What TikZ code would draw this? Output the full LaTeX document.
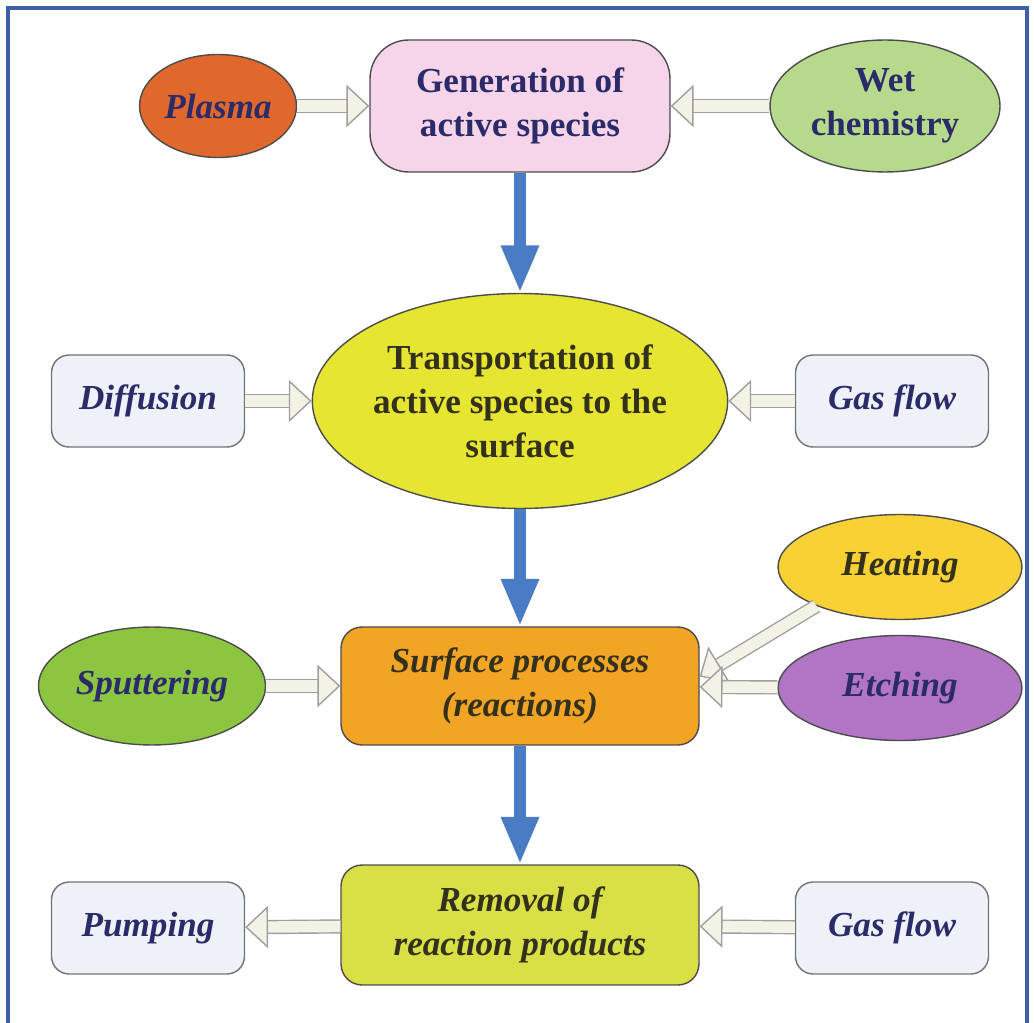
\documentclass[tikz,border=0pt]{standalone}
\usepackage{fontspec}
\setmainfont{Liberation Serif}
\usetikzlibrary{arrows.meta,shapes.geometric}
\definecolor{framecol}{HTML}{3D5FA6}
\definecolor{bluearrow}{HTML}{4A7CC6}
\definecolor{arrowfill}{HTML}{F2F2E6}
\definecolor{inktext}{HTML}{2B2B6A}
\definecolor{darktext}{HTML}{33301C}
\definecolor{plasmacol}{HTML}{E0682C}
\definecolor{gencol}{HTML}{F6D4EA}
\definecolor{wetcol}{HTML}{B6D98C}
\definecolor{transcol}{HTML}{E6E632}
\definecolor{sidecol}{HTML}{EEF2F8}
\definecolor{surfcol}{HTML}{F2A424}
\definecolor{sputcol}{HTML}{8CC640}
\definecolor{heatcol}{HTML}{F8D234}
\definecolor{etchcol}{HTML}{B274C4}
\definecolor{remcol}{HTML}{D8E046}
\begin{document}
\begin{tikzpicture}[x=0.02cm,y=-0.02cm,line width=0.8pt,
	txt/.style={font=\fontsize{20}{25}\selectfont\bfseries,align=center,inner sep=0pt},
	itxt/.style={txt,font=\fontsize{20}{25}\selectfont\bfseries\itshape},
	oval/.style={ellipse,draw=black!70},
	sidebox/.style={rectangle,rounded corners=10pt,draw=black!55,fill=sidecol,minimum width=3.86cm,minimum height=1.84cm,itxt,text=inktext},
	mainbox/.style={rectangle,rounded corners=12pt,draw=black!70,minimum width=7.16cm,itxt,text=darktext},
	hollow/.style={draw=gray!75,double=arrowfill,double distance=6.5pt,line width=0.8pt,
		-{Triangle[open,length=13pt,width=24pt,fill=arrowfill]}},
	flow/.style={bluearrow,line width=6.5pt,-{Triangle[length=27pt,width=20pt]}}]
	\useasboundingbox (0,0) rectangle (1034,1023);
	\draw[framecol,line width=1.8pt] (8,1030)--(8,8)--(1027,8)--(1027,1030);
	% top row
	\node[oval,fill=plasmacol,minimum width=3.14cm,minimum height=2.06cm,itxt,text=inktext] (plasma) at (218,106) {Plasma};
	\node[rectangle,rounded corners=22pt,draw=black!70,fill=gencol,minimum width=6cm,minimum height=2.64cm,txt,text=inktext] (gen) at (520,106) {Generation of\\active species};
	\node[oval,fill=wetcol,minimum width=4.6cm,minimum height=2.64cm,txt,text=inktext] (wet) at (885,106) {Wet\\chemistry};
	% second row
	\node[oval,fill=transcol,minimum width=8.1cm,minimum height=4.3cm,txt,text=darktext] (trans) at (520,401) {Transportation of\\active species to the\\surface};
	\node[sidebox] (diff) at (148,401) {Diffusion};
	\node[sidebox] (gas) at (892,401) {Gas flow};
	% third row
	\node[mainbox,fill=surfcol,minimum height=2.36cm] (surf) at (520,686) {Surface processes\\(reactions)};
	\node[oval,fill=sputcol,minimum width=4.54cm,minimum height=2.36cm,itxt,text=inktext] (sput) at (152,686) {Sputtering};
	\node[oval,fill=heatcol,minimum width=4.88cm,minimum height=2.1cm,itxt,text=darktext] (heat) at (900,567) {Heating};
	\node[oval,fill=etchcol,minimum width=4.88cm,minimum height=2.1cm,itxt,text=inktext] (etch) at (900,688) {Etching};
	% bottom row
	\node[mainbox,fill=remcol,minimum height=2.4cm] (rem) at (520,925) {Removal of\\reaction products};
	\node[sidebox] (pump) at (148,928) {Pumping};
	\node[sidebox] (gas2) at (892,928) {Gas flow};
	% connectors
	\draw[hollow] (plasma) -- (gen);
	\draw[hollow] (wet) -- (gen);
	\draw[hollow] (diff) -- (trans);
	\draw[hollow] (gas) -- (trans);
	\draw[hollow] (sput) -- (surf);
	\draw[hollow] (heat.205) -- (surf.3);
	\draw[hollow] (etch) -- (surf);
	\draw[hollow] (rem) -- (pump);
	\draw[hollow] (gas2) -- (rem);
	\draw[flow] (gen) -- (trans);
	\draw[flow] (trans) -- (surf);
	\draw[flow] (surf) -- (rem);
\end{tikzpicture}
\end{document}
